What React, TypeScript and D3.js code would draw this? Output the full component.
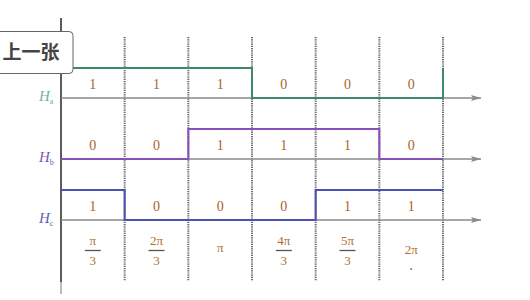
import React from "react";
import * as d3 from "d3";

const intervals = [0, 1, 2, 3, 4, 5];
const tickNum = ["π", "2π", "π", "4π", "5π", "2π"];
const tickDen = ["3", "3", "", "3", "3", ""];
const seriesNames = ["a", "b", "c"];
const haValues = [1, 1, 1, 0, 0, 0];
const hbValues = [0, 0, 1, 1, 1, 0];
const hcValues = [1, 0, 0, 0, 1, 1];
const seriesColors = ["#3f8a66", "#8650b8", "#4a52b0"];
const labelColors = ["#6fb3a0", "#7a58b8", "#5a62b8"];

export default function App() {
  const W = 530, H = 300;
  const x = d3.scaleLinear().domain([0, 6]).range([61, 443]);
  const rowBase = d3.scalePoint<number>().domain([0, 1, 2]).range([98, 220]);
  const level = d3.scaleLinear().domain([0, 1]).range([0, -30]);
  const all = [haValues, hbValues, hcValues];
  const serif = "'Liberation Serif', 'DejaVu Serif', serif";

  return (
    <svg width={W} height={H} style={{ position: "absolute", left: 0, top: 0, background: "#fff" }}>
      <defs>
        <marker id="arr" viewBox="0 0 10 6" refX="10" refY="3" markerWidth="12" markerHeight="6" markerUnits="userSpaceOnUse" orient="auto">
          <path d="M0,0 L10,3 L0,6 L2,3 Z" fill="#8a8a8a" />
        </marker>
      </defs>
      {d3.range(1, 7).map((i) => (
        <line key={"v" + i} x1={x(i)} x2={x(i)} y1={37} y2={281} stroke="#666" strokeWidth={2} strokeDasharray="1.2,1" />
      ))}
      <line x1={61} x2={61} y1={18} y2={282} stroke="#333" strokeWidth={1.6} />
      <line x1={61} x2={61} y1={282} y2={294} stroke="#aaa" strokeWidth={1.6} />
      {all.map((_, r) => (
        <line key={"ax" + r} x1={61} x2={481} y1={rowBase(r)} y2={rowBase(r)} stroke="#8a8a8a" strokeWidth={1.6} markerEnd="url(#arr)" />
      ))}
      {all.map((vals, r) => {
        const pts: [number, number][] = vals.map((v, i) => [i, v]);
        pts.push([6, vals[0]]);
        const line = d3
          .line<[number, number]>()
          .x((d) => x(d[0]))
          .y((d) => (rowBase(r) as number) + level(d[1]))
          .curve(d3.curveStepAfter);
        return <path key={"s" + r} d={line(pts) || ""} fill="none" stroke={seriesColors[r]} strokeWidth={2} />;
      })}
      {all.map((vals, r) =>
        vals.map((v, i) => (
          <text key={"d" + r + i} x={x(i + 0.5)} y={(rowBase(r) as number) - 9} textAnchor="middle" fontFamily={serif} fontSize={14} fill="#a8642a">
            {v}
          </text>
        ))
      )}
      {seriesNames.map((n, r) => (
        <text key={"n" + r} x={39} y={(rowBase(r) as number) + 3} fontFamily={serif} fontSize={15} fontStyle="italic" fill={labelColors[r]}>
          H<tspan fontSize={8} fontStyle="normal" dy={3}>{n}</tspan>
        </text>
      ))}
      {intervals.map((i) => {
        const cx = x(i + 0.5);
        if (tickDen[i]) {
          return (
            <g key={"t" + i}>
              <text x={cx} y={245} textAnchor="middle" fontFamily={serif} fontSize={13} fill="#b0702a">{tickNum[i]}</text>
              <line x1={cx - 8} x2={cx + 8} y1={250.5} y2={250.5} stroke="#555" strokeWidth={1.3} />
              <text x={cx} y={265} textAnchor="middle" fontFamily={serif} fontSize={13} fill="#b0702a">{tickDen[i]}</text>
            </g>
          );
        }
        return (
          <g key={"t" + i}>
            <text x={cx} y={i === 5 ? 254 : 252} textAnchor="middle" fontFamily={serif} fontSize={13} fill="#b0702a">{tickNum[i]}</text>
            {i === 5 && <circle cx={cx} cy={269} r={1} fill="#777" />}
          </g>
        );
      })}
      <rect x={-6} y={31.5} width={79} height={42} rx={4} fill="#fff" stroke="#666" strokeWidth={1} />
      <text x={31} y={59} textAnchor="middle" fontFamily="'Noto Sans CJK SC', sans-serif" fontWeight="bold" fontSize={19} fill="#444">上一张</text>
    </svg>
  );
}
